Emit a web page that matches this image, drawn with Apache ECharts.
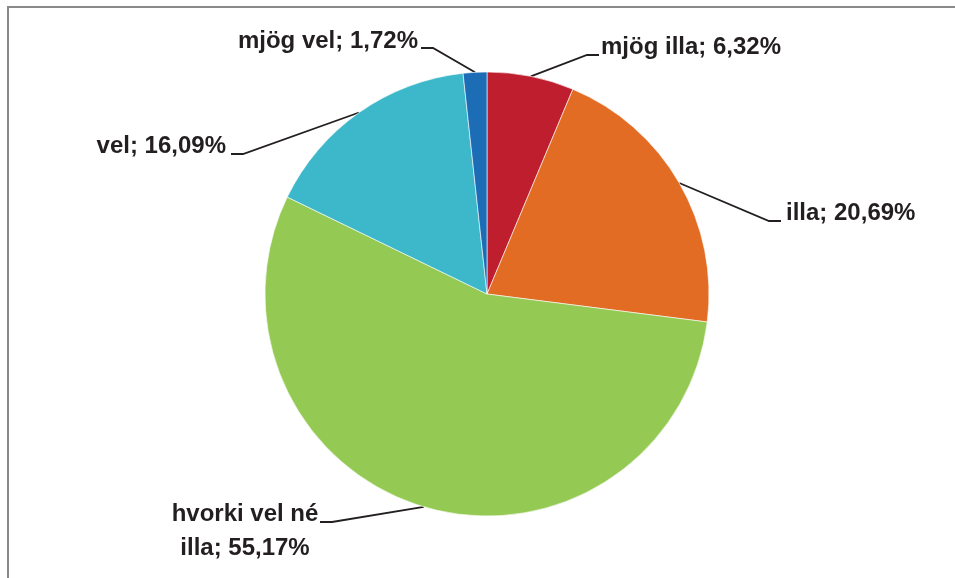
<!DOCTYPE html>
<html>
<head>
<meta charset="utf-8">
<style>
  html, body { margin: 0; padding: 0; background: #fff; }
  #chart { width: 955px; height: 578px; }
</style>
<script src="https://cdn.jsdelivr.net/npm/echarts@6/dist/echarts.min.js"></script>
</head>
<body>
<div id="chart"></div>
<script>
// flokkar og hlutföll (%)
const categories = ['mjög illa', 'illa', 'hvorki vel né illa', 'vel', 'mjög vel'];
const shares = [6.32, 20.69, 55.17, 16.09, 1.72];
const sliceColors = ['#BE1E2D', '#E36C25', '#94C953', '#3CB8CA', '#1C6DB6'];

// staðsetning merkja: texti (tx, ty) og endi leiðarlínu (lx, ly)
const labelSpots = [
  {tx: 601, ty: 47, align: 'left', lx: 599, ly: 55},
  {tx: 786, ty: 213, align: 'left', lx: 781, ly: 221},
  {tx: 245, ty: 531, align: 'center', lx: 320, ly: 522},
  {tx: 226, ty: 146, align: 'right', lx: 231, ly: 154},
  {tx: 418, ty: 41, align: 'right', lx: 421, ly: 48}
];

const fmtPct = v => v.toFixed(2).replace('.', ',') + '%';

const chart = echarts.init(document.getElementById('chart'));

const option = {
  animation: false,
  backgroundColor: '#fff',
  graphic: [{
    type: 'rect',
    shape: {x: 8, y: 7, width: 2000, height: 2000},
    style: {fill: 'none', stroke: '#8a8a8a', lineWidth: 2},
    silent: true
  }],
  series: [{
    type: 'pie',
    center: [487, 294],
    radius: 222,
    startAngle: 90,
    clockwise: true,
    avoidLabelOverlap: false,
    itemStyle: {borderColor: '#fff', borderWidth: 0.6},
    label: {
      show: true,
      position: 'outside',
      color: '#231F20',
      fontFamily: "'Liberation Sans', Arial, sans-serif",
      fontWeight: 'bold',
      fontSize: 24,
      lineHeight: 34,
      formatter: p => {
        const name = p.name.length > 12 ? p.name.replace(' né ', ' né\n') : p.name;
        return name + '; ' + fmtPct(p.value);
      }
    },
    labelLine: {
      show: true,
      lineStyle: {color: '#231F20', width: 1.8}
    },
    labelLayout: p => {
      const s = labelSpots[p.dataIndex];
      const dir = s.align === 'right' || s.align === 'center' && s.lx > s.tx ? 1 : -1;
      const elbow = [s.lx + dir * 12, s.ly];
      return {
        x: s.tx,
        y: s.ty,
        align: s.align,
        verticalAlign: 'middle',
        labelLinePoints: [p.labelLinePoints[0], elbow, [s.lx, s.ly]]
      };
    },
    data: categories.map((c, i) => ({
      name: c,
      value: shares[i],
      itemStyle: {color: sliceColors[i]}
    }))
  }]
};

chart.setOption(option);
</script>
</body>
</html>
